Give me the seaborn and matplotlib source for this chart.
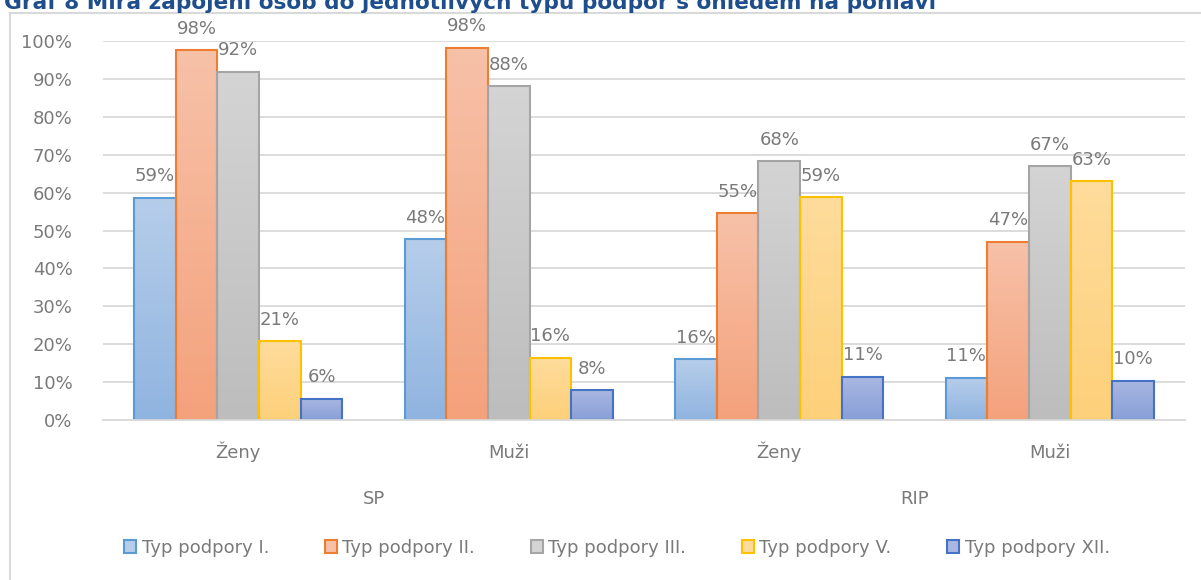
import numpy as np
import pandas as pd
import matplotlib
matplotlib.use("Agg")
import matplotlib.pyplot as plt
import seaborn as sns
from matplotlib.colors import LinearSegmentedColormap
from matplotlib.patches import Patch
from matplotlib.lines import Line2D
import matplotlib.transforms as mtransforms

# data
categories = ["Ženy", "Muži", "Ženy", "Muži"]
groups = ["SP", "SP", "RIP", "RIP"]
series = ["Typ podpory I.", "Typ podpory II.", "Typ podpory III.", "Typ podpory V.", "Typ podpory XII."]
typ_I = [0.587, 0.477, 0.160, 0.112]
typ_II = [0.976, 0.982, 0.546, 0.470]
typ_III = [0.919, 0.880, 0.683, 0.670]
typ_V = [0.208, 0.164, 0.588, 0.630]
typ_XII = [0.056, 0.079, 0.114, 0.103]

edge_colors = ["#5B9BD5", "#ED7D31", "#A5A5A5", "#FFC000", "#4472C4"]
grad_top = ["#B6CDEA", "#F7C1A8", "#D4D4D4", "#FFDC9C", "#A9B7E2"]
grad_bottom = ["#90B4E0", "#F4A27C", "#BDBDBD", "#FDD07A", "#889FD8"]
text_gray = "#7A7A7A"
grid_gray = "#D9D9D9"

keys = [f"{g} {c} {i}" for i, (g, c) in enumerate(zip(groups, categories))]
rows = []
for name, vals in zip(series, [typ_I, typ_II, typ_III, typ_V, typ_XII]):
    for k, v in zip(keys, vals):
        rows.append({"key": k, "typ": name, "value": v})
df = pd.DataFrame(rows)

sns.set_style("white")
plt.rcParams["font.family"] = ["DejaVu Sans"]

fig = plt.figure(figsize=(12.01, 5.8), dpi=100)
ax = fig.add_axes([103 / 1201, 1 - 420 / 580, (1185 - 103) / 1201, (420 - 41) / 580])

sns.barplot(data=df, x="key", y="value", hue="typ", order=keys, hue_order=series,
            palette=edge_colors, saturation=1, width=0.77, errorbar=None,
            legend=False, ax=ax)

# gradient fills clipped to the bars
for cont, top, bot, ec in zip(ax.containers, grad_top, grad_bottom, edge_colors):
    cmap = LinearSegmentedColormap.from_list("g", [bot, top])
    for bar in cont:
        x0, w, h = bar.get_x(), bar.get_width(), bar.get_height()
        grad = np.linspace(0, 1, 64).reshape(-1, 1)
        im = ax.imshow(grad, extent=[x0, x0 + w, 0, h], origin="lower",
                       cmap=cmap, aspect="auto", zorder=1.5)
        im.set_clip_path(bar)
        bar.set_facecolor("none")
        bar.set_edgecolor(ec)
        bar.set_linewidth(1.5)
        bar.set_zorder(2)
    ax.bar_label(cont, labels=[f"{v * 100:.0f}%" for v in cont.datavalues],
                 padding=9, color=text_gray, fontsize=13, clip_on=False)

ax.set_xlim(-0.5, len(keys) - 0.5)
ax.set_ylim(0, 1.0)

ax.set_yticks(np.arange(0, 1.01, 0.1))
ax.set_yticklabels([f"{int(round(t * 100))}%" for t in np.arange(0, 1.01, 0.1)])
ax.set_xticks(range(len(keys)))
ax.set_xticklabels(categories, va="baseline")
ax.tick_params(axis="both", length=0, labelsize=13, labelcolor=text_gray)
ax.tick_params(axis="y", pad=22)
ax.tick_params(axis="x", pad=27)
ax.set_xlabel("")
ax.set_ylabel("")

ax.yaxis.grid(True, color=grid_gray, linewidth=1.3)
ax.set_axisbelow(True)
for s in ["left", "right", "top"]:
    ax.spines[s].set_visible(False)
ax.spines["bottom"].set_color(grid_gray)
ax.spines["bottom"].set_linewidth(1.3)

# outer group labels
trans = mtransforms.blended_transform_factory(ax.transData, fig.transFigure)
ax.text(0.5, 1 - 499 / 580, "SP", transform=trans, ha="center", va="center",
        fontsize=13, color=text_gray)
ax.text(2.5, 1 - 499 / 580, "RIP", transform=trans, ha="center", va="center",
        fontsize=13, color=text_gray)

# legend
handles = [Patch(facecolor=t, edgecolor=e, linewidth=1.5) for t, e in zip(grad_top, edge_colors)]
fig.legend(handles, series, loc="center", bbox_to_anchor=(617 / 1201, 1 - 548 / 580),
           ncol=5, frameon=False, fontsize=13, labelcolor=text_gray,
           handlelength=0.65, handleheight=0.75, handletextpad=0.3, columnspacing=3.1)

# chart frame (left and top edges visible)
fig.add_artist(Line2D([10 / 1201, 10 / 1201], [0, 1 - 13 / 580], transform=fig.transFigure,
                      color=grid_gray, linewidth=1.5))
fig.add_artist(Line2D([10 / 1201, 1], [1 - 13 / 580, 1 - 13 / 580], transform=fig.transFigure,
                      color=grid_gray, linewidth=1.5))

# title, cut off at the top like in the source
fig.text(4 / 1201, 1 - 9 / 580, "Graf 8 Míra zapojení osob do jednotlivých typů podpor s ohledem na pohlaví",
         fontsize=15.6, fontweight="bold", color="#1F4E8C", va="baseline", ha="left")

fig.savefig("out.png", dpi=100)
